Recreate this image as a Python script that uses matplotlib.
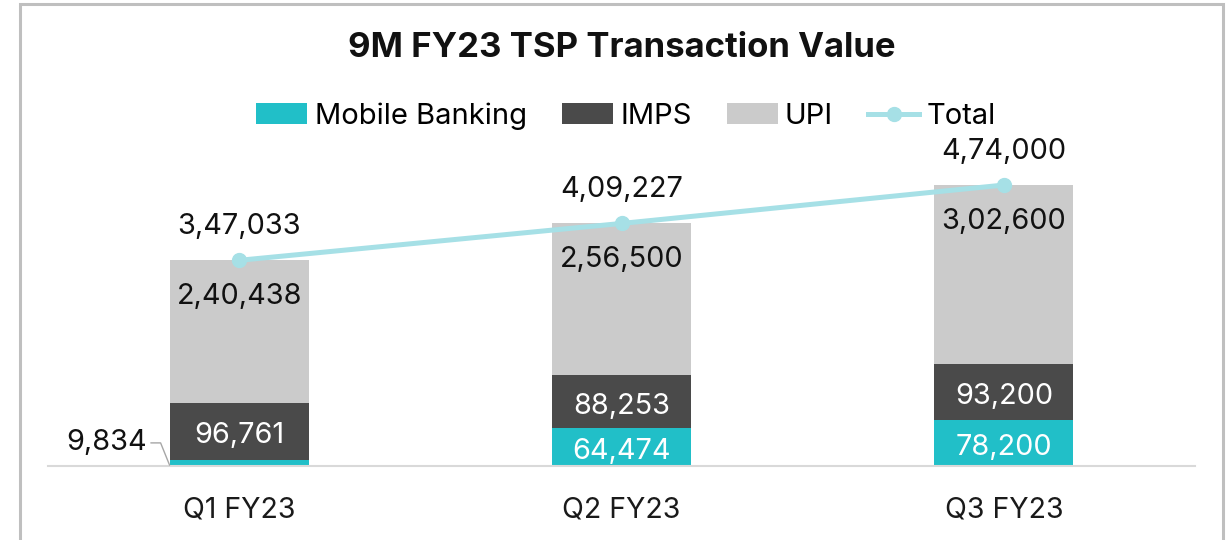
import matplotlib
matplotlib.use("Agg")
import matplotlib.pyplot as plt
from matplotlib.patches import Rectangle
import numpy as np

plt.rcParams['font.family'] = ['Inter', 'DejaVu Sans']

categories = ["Q1 FY23", "Q2 FY23", "Q3 FY23"]
mobile_banking = [9834, 64474, 78200]
imps = [96761, 88253, 93200]
upi = [240438, 256500, 302600]
total = [347033, 409227, 474000]

c_mobile = "#21BFC8"
c_imps = "#4A4A4A"
c_upi = "#CBCBCB"
c_total = "#A6E0E6"

def fmt_in(v):
    s = str(int(v))
    if len(s) <= 3:
        return s
    last3 = s[-3:]
    rest = s[:-3]
    parts = []
    while len(rest) > 2:
        parts.insert(0, rest[-2:])
        rest = rest[:-2]
    if rest:
        parts.insert(0, rest)
    return ",".join(parts) + "," + last3

W, H = 1229, 540
fig = plt.figure(figsize=(W / 100, H / 100), dpi=100)
fig.patch.set_facecolor("white")

# outer border
fig.patches.append(Rectangle((20 / W, -0.05), (1223 - 20) / W, 1.05 - 4 / H,
                             transform=fig.transFigure, fill=False,
                             edgecolor="#BFBFBF", linewidth=2.2))

ax = fig.add_axes([48 / W, (H - 466) / H, (1195 - 48) / W, (466 - 140) / H])
x = np.arange(len(categories))
bw = 0.364

b1 = ax.bar(x, mobile_banking, bw, color=c_mobile, label="Mobile Banking", zorder=2)
b2 = ax.bar(x, imps, bw, bottom=mobile_banking, color=c_imps, label="IMPS", zorder=2)
bottom3 = np.array(mobile_banking) + np.array(imps)
b3 = ax.bar(x, upi, bw, bottom=bottom3, color=c_upi, label="UPI", zorder=2)
ln, = ax.plot(x, total, color=c_total, linewidth=3.6, marker="o", markersize=10,
              label="Total", zorder=3)

ax.set_xlim(-0.5, 2.5)
ax.set_ylim(0, 550000)
for s in ["top", "right", "left"]:
    ax.spines[s].set_visible(False)
ax.spines["bottom"].set_color("#D9D9D9")
ax.spines["bottom"].set_linewidth(1.5)
ax.set_yticks([])
ax.set_xticks(x)
ax.set_xticklabels(categories, fontsize=20.5, color="#1a1a1a")
ax.tick_params(axis="x", length=0, pad=22)

fs = 20.8
dy = -3.2  # visual centering offset in points
# mobile labels
for i, v in enumerate(mobile_banking):
    if i == 0:
        ax.annotate(fmt_in(v), xy=(x[i] - bw / 2, v * 0.15), xytext=(-16.5, 16),
                    textcoords="offset points", ha="right", va="center",
                    fontsize=fs, color="#111111",
                    arrowprops=dict(arrowstyle="-", color="#A6A6A6", lw=1.0,
                                    connectionstyle="angle,angleA=0,angleB=112,rad=0",
                                    shrinkA=1, shrinkB=0))
    else:
        ax.annotate(fmt_in(v), xy=(x[i], v / 2), xytext=(0, dy),
                    textcoords="offset points", ha="center", va="center",
                    fontsize=fs, color="white")
for i, v in enumerate(imps):
    ax.annotate(fmt_in(v), xy=(x[i], mobile_banking[i] + v / 2), xytext=(0, dy),
                textcoords="offset points", ha="center", va="center",
                fontsize=fs, color="white")
for i, v in enumerate(upi):
    ax.annotate(fmt_in(v), xy=(x[i], bottom3[i] + v), xytext=(0, -24 + dy * 0.6),
                textcoords="offset points", ha="center", va="center",
                fontsize=fs, color="#111111")
for i, v in enumerate(total):
    ax.annotate(fmt_in(v), xy=(x[i], v), xytext=(0, 26 + dy * 0.6),
                textcoords="offset points", ha="center", va="center",
                fontsize=fs, color="#111111")

fig.text(622 / W, 1 - 48 / H, "9M FY23 TSP Transaction Value", ha="center",
         va="center", fontsize=25, fontweight="bold", color="#111111")

handles = [b1, b2, b3, ln]
labels = ["Mobile Banking", "IMPS", "UPI", "Total"]
fig.legend(handles, labels, loc="center", bbox_to_anchor=(626 / W, 1 - 116 / H),
           ncol=4, frameon=False, fontsize=21, handlelength=1.75,
           handletextpad=0.25, columnspacing=1.2, handleheight=0.7)

fig.savefig("out.png", dpi=100, facecolor="white")
